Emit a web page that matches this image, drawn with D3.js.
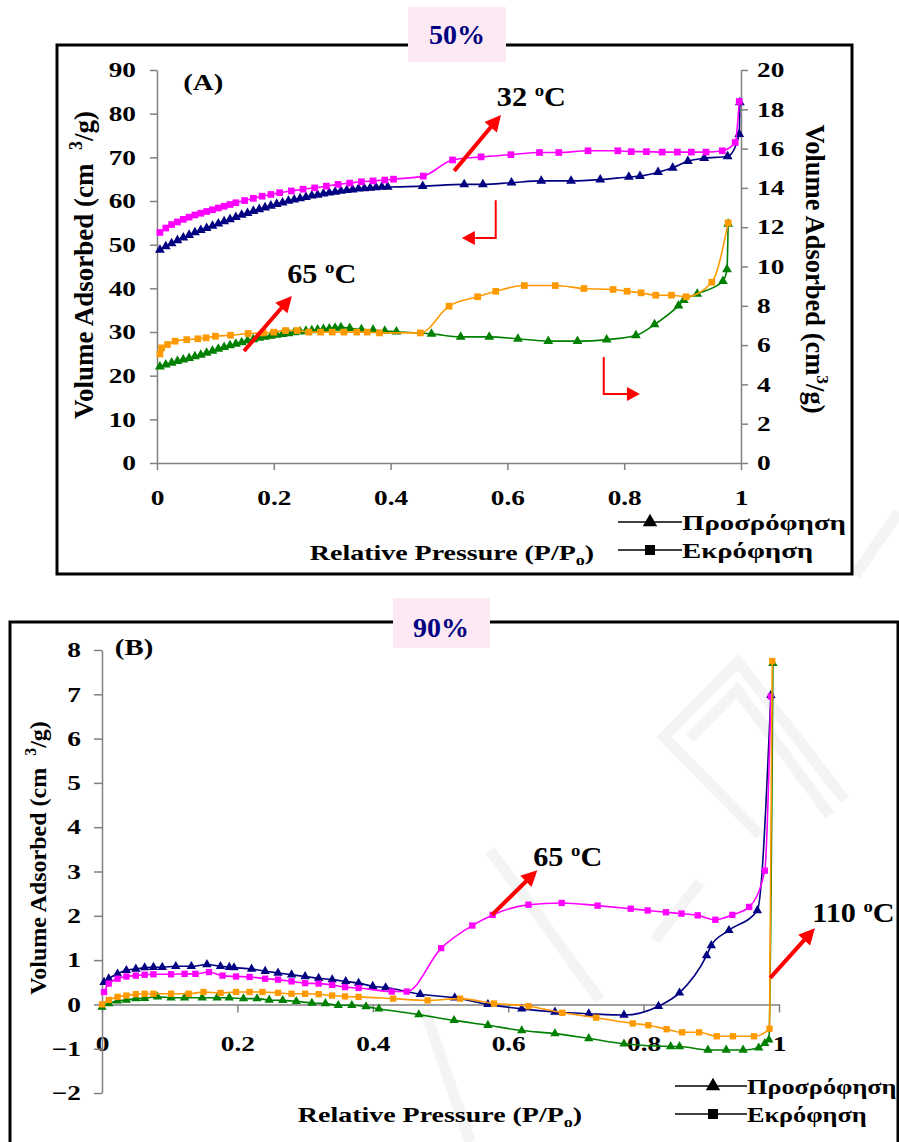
<!DOCTYPE html>
<html><head><meta charset="utf-8">
<script src="https://cdn.jsdelivr.net/npm/d3@7"></script>
<style>
body{margin:0;background:#fff}
svg{display:block}
text{font-family:"Liberation Serif","Times New Roman",serif;font-weight:bold}
</style>
</head><body>
<svg id="c" width="899" height="1142"></svg>
<script>
// ---------- tick values / labels ----------
const xTicks = [0, 0.2, 0.4, 0.6, 0.8, 1];
const xTickLabels = ["0", "0.2", "0.4", "0.6", "0.8", "1"];
const aLeftTicks = [0, 10, 20, 30, 40, 50, 60, 70, 80, 90];
const aRightTicks = [0, 2, 4, 6, 8, 10, 12, 14, 16, 18, 20];
const bTicks = [-2, -1, 0, 1, 2, 3, 4, 5, 6, 7, 8];
const legendLabels = ["Προσρόφηση", "Εκρόφηση"];

// ---------- Panel A, 32 °C (left axis) ----------
const a32AdsP = [0.005,0.015,0.025,0.035,0.045,0.055,0.065,0.075,0.085,0.095,0.105,0.115,0.125,0.135,0.145,0.155,0.165,0.175,0.185,0.195,0.205,0.215,0.225,0.235,0.245,0.255,0.265,0.275,0.285,0.295,0.305,0.315,0.325,0.335,0.345,0.355,0.365,0.375,0.385,0.395,0.455,0.526,0.558,0.607,0.658,0.709,0.759,0.808,0.827,0.858,0.883,0.909,0.937,0.977,0.997,0.998];
const a32AdsV = [48.8,49.6,50.3,51.0,51.6,52.2,52.8,53.3,53.8,54.3,54.8,55.3,55.8,56.3,56.8,57.2,57.7,58.1,58.5,58.9,59.3,59.6,60.0,60.3,60.6,60.9,61.2,61.4,61.7,61.9,62.1,62.3,62.5,62.6,62.8,62.9,63.0,63.1,63.2,63.2,63.4,63.8,63.8,64.2,64.6,64.6,64.9,65.5,65.7,66.6,67.6,69.1,69.8,70.2,75.3,82.6];
const a32DesP = [0.005,0.015,0.025,0.035,0.045,0.055,0.065,0.075,0.085,0.095,0.105,0.115,0.125,0.135,0.15,0.165,0.18,0.195,0.21,0.23,0.25,0.27,0.29,0.31,0.33,0.35,0.37,0.39,0.405,0.456,0.506,0.555,0.606,0.655,0.688,0.738,0.789,0.812,0.838,0.865,0.891,0.915,0.94,0.968,0.99,0.997];
const a32DesV = [52.8,53.8,54.6,55.2,55.8,56.3,56.8,57.2,57.6,58.0,58.4,58.8,59.2,59.6,60.1,60.6,61.1,61.5,61.9,62.3,62.7,63.0,63.4,63.8,64.1,64.4,64.6,64.8,65.0,65.7,69.4,70.1,70.6,71.1,71.1,71.5,71.5,71.3,71.3,71.2,71.2,71.2,71.2,71.5,73.4,82.8];

// ---------- Panel A, 65 °C (right axis) ----------
const a65AdsP = [0.005,0.015,0.025,0.035,0.045,0.055,0.065,0.075,0.085,0.095,0.105,0.115,0.125,0.135,0.145,0.155,0.165,0.175,0.185,0.195,0.205,0.215,0.225,0.235,0.245,0.255,0.265,0.275,0.285,0.295,0.305,0.315,0.33,0.35,0.37,0.39,0.41,0.47,0.52,0.569,0.618,0.67,0.72,0.77,0.82,0.852,0.893,0.902,0.925,0.969,0.976,0.978];
const a65AdsV = [4.9,5.0,5.1,5.18,5.26,5.34,5.42,5.5,5.6,5.7,5.8,5.9,5.98,6.06,6.14,6.22,6.29,6.36,6.42,6.47,6.52,6.56,6.6,6.64,6.68,6.72,6.75,6.78,6.81,6.84,6.87,6.9,6.86,6.8,6.77,6.72,6.68,6.57,6.42,6.42,6.32,6.2,6.2,6.28,6.49,7.05,8.01,8.29,8.61,9.25,9.85,12.17];
const a65DesP = [0.005,0.008,0.018,0.031,0.051,0.07,0.084,0.1,0.126,0.156,0.182,0.2,0.22,0.24,0.26,0.28,0.3,0.32,0.342,0.36,0.381,0.451,0.5,0.549,0.58,0.629,0.682,0.731,0.781,0.805,0.829,0.854,0.881,0.906,0.95,0.978];
const a65DesV = [5.55,5.86,6.03,6.2,6.28,6.32,6.37,6.45,6.5,6.59,6.62,6.66,6.74,6.74,6.66,6.66,6.66,6.66,6.66,6.66,6.62,6.62,7.98,8.46,8.74,9.03,9.03,8.88,8.83,8.74,8.66,8.54,8.54,8.46,9.2,12.22];

// ---------- Panel B, 65 °C ----------
const b65AdsP = [0.003,0.01,0.023,0.036,0.05,0.063,0.076,0.089,0.109,0.132,0.155,0.175,0.188,0.195,0.221,0.241,0.26,0.28,0.3,0.32,0.34,0.36,0.379,0.4,0.419,0.47,0.521,0.57,0.62,0.669,0.719,0.771,0.822,0.853,0.893,0.9,0.926,0.968,0.988];
const b65AdsV = [0.5,0.58,0.69,0.77,0.8,0.83,0.84,0.84,0.86,0.86,0.9,0.86,0.84,0.83,0.8,0.75,0.71,0.67,0.63,0.59,0.56,0.52,0.48,0.41,0.38,0.23,0.15,0.0,-0.1,-0.17,-0.21,-0.24,-0.04,0.26,1.1,1.33,1.67,2.12,6.98];
const b65DesP = [0.003,0.01,0.023,0.036,0.05,0.063,0.076,0.102,0.122,0.138,0.158,0.178,0.198,0.218,0.241,0.26,0.28,0.3,0.32,0.34,0.359,0.379,0.428,0.45,0.501,0.547,0.577,0.63,0.679,0.732,0.781,0.806,0.833,0.856,0.88,0.906,0.931,0.956,0.979,0.988];
const b65DesV = [0.28,0.47,0.58,0.63,0.65,0.67,0.68,0.68,0.69,0.69,0.73,0.65,0.63,0.62,0.58,0.56,0.52,0.48,0.47,0.44,0.39,0.37,0.29,0.29,1.27,1.78,2.02,2.25,2.29,2.23,2.16,2.12,2.08,2.05,2.01,1.91,2.02,2.2,3.02,6.95];

// ---------- Panel B, 110 °C ----------
const b110AdsP = [0.0,0.01,0.023,0.036,0.05,0.063,0.082,0.102,0.122,0.148,0.17,0.188,0.209,0.229,0.247,0.267,0.287,0.31,0.33,0.349,0.369,0.39,0.409,0.468,0.52,0.57,0.62,0.669,0.719,0.771,0.84,0.853,0.895,0.922,0.947,0.97,0.979,0.985,0.991];
const b110AdsV = [-0.06,0.02,0.08,0.1,0.13,0.14,0.17,0.15,0.15,0.15,0.15,0.15,0.13,0.13,0.1,0.09,0.07,0.03,0.02,-0.02,-0.02,-0.05,-0.1,-0.23,-0.36,-0.47,-0.59,-0.66,-0.77,-0.89,-0.95,-0.95,-1.03,-1.03,-1.03,-0.98,-0.88,-0.8,7.7];
const b110DesP = [0.0,0.01,0.023,0.036,0.05,0.063,0.076,0.102,0.128,0.15,0.175,0.198,0.218,0.237,0.26,0.28,0.3,0.32,0.34,0.359,0.379,0.43,0.481,0.529,0.579,0.63,0.68,0.73,0.784,0.807,0.834,0.857,0.882,0.908,0.932,0.963,0.986,0.99];
const b110DesV = [0.0,0.1,0.17,0.2,0.23,0.24,0.24,0.24,0.24,0.28,0.26,0.28,0.28,0.28,0.26,0.24,0.24,0.23,0.2,0.18,0.17,0.13,0.09,0.13,0.02,-0.04,-0.19,-0.3,-0.43,-0.47,-0.56,-0.63,-0.63,-0.72,-0.72,-0.72,-0.55,7.75];

// ---------- colours ----------
const NAVY = "#000080", MAGENTA = "#ff00ff", ORANGE = "#ff9900", GREEN = "#008000", RED = "#ff0000", AXIS = "#808080";
const SERIF = '"Liberation Serif","Times New Roman",serif';

const svg = d3.select("#c");

// faint watermark strokes (background)
const wm = svg.append("g").attr("fill", "none").attr("stroke", "#f4f4f4").attr("stroke-width", 11);
wm.append("polyline").attr("points", "760,835 664,737 738,662 845,800");
wm.append("polyline").attr("points", "690,738 737,690 830,815");
wm.append("polyline").attr("points", "490,850 600,1000");
wm.append("polyline").attr("points", "655,940 700,882");
wm.append("polyline").attr("points", "855,575 899,512");
wm.append("polyline").attr("points", "425,1010 470,1142");

// ---------- helpers ----------
function stretch(sel, k) {
  sel.each(function () {
    const w = this.getComputedTextLength();
    this.setAttribute("textLength", (w * k).toFixed(1));
    this.setAttribute("lengthAdjust", "spacingAndGlyphs");
  });
}
function drawSeries(g, xs, ys, P, V, color, shape, size) {
  const pts = P.map((p, i) => [xs(p), ys(V[i])]);
  g.append("path").attr("d", d3.line().curve(d3.curveMonotoneX)(pts))
    .attr("fill", "none").attr("stroke", color).attr("stroke-width", 1.6);
  const sym = d3.symbol().type(shape === "tri" ? d3.symbolTriangle : d3.symbolSquare).size(size);
  g.selectAll(null).data(pts).join("path")
    .attr("transform", d => `translate(${d[0]},${d[1]})`)
    .attr("d", sym).attr("fill", color);
}
function styleAxis(sel, fs) {
  sel.attr("font-family", SERIF);
  sel.selectAll(".domain").attr("stroke", AXIS).attr("stroke-width", 1.5);
  sel.selectAll(".tick line").attr("stroke", AXIS).attr("stroke-width", 1.5);
  const t = sel.selectAll(".tick text").attr("fill", "#000").attr("font-size", fs)
    .attr("font-family", SERIF).attr("font-weight", "bold");
  stretch(t, 1.3);
}
function arrow(g, x1, y1, x2, y2, w, hl, hw) {
  const dx = x2 - x1, dy = y2 - y1, L = Math.hypot(dx, dy), ux = dx / L, uy = dy / L;
  const bx = x2 - ux * hl, by = y2 - uy * hl;
  g.append("line").attr("x1", x1).attr("y1", y1).attr("x2", bx + ux).attr("y2", by + uy)
    .attr("stroke", RED).attr("stroke-width", w);
  g.append("polygon").attr("points", [[x2, y2], [bx - uy * hw, by + ux * hw], [bx + uy * hw, by - ux * hw]].map(p => p.join(",")).join(" "))
    .attr("fill", RED);
}
function tempLabel(g, x, y, num, fs) {
  const t = g.append("text").attr("x", x).attr("y", y).attr("font-size", fs).attr("fill", "#000");
  t.append("tspan").text(num + " ");
  t.append("tspan").attr("font-size", fs * 0.62).attr("dy", -fs * 0.38).text("o");
  t.append("tspan").attr("dy", fs * 0.38).text("C");
  stretch(t, 1.12);
}
function legend(g, x0, x1, xm, y1, y2, xt, k) {
  [[y1, "tri"], [y2, "sq"]].forEach(([y, s], i) => {
    g.append("line").attr("x1", x0).attr("x2", x1).attr("y1", y).attr("y2", y).attr("stroke", "#000").attr("stroke-width", 1.6);
    g.append("path").attr("transform", `translate(${xm},${y})`)
      .attr("d", d3.symbol().type(s === "tri" ? d3.symbolTriangle : d3.symbolSquare).size(s === "tri" ? 90 : 100)).attr("fill", "#000");
    const t = g.append("text").attr("x", xt).attr("y", y + 8).attr("font-size", 21).text(legendLabels[i]);
    stretch(t, k);
  });
}
function xTitle(g, cx, y) {
  const t = g.append("text").attr("x", cx).attr("y", y).attr("text-anchor", "middle").attr("font-size", 21.5);
  t.append("tspan").text("Relative Pressure (P/P");
  t.append("tspan").attr("font-size", 14).attr("dy", 5).text("o");
  t.append("tspan").attr("dy", -5).text(")");
  stretch(t, 1.3);
}
function yTitle(g, tx, ty, rot, fs, gap) {
  const t = g.append("text").attr("transform", `translate(${tx},${ty}) rotate(${rot})`)
    .attr("text-anchor", "middle").attr("font-size", fs);
  t.append("tspan").text("Volume Adsorbed (cm" + (gap ? "\u00a0\u00a0" : ""));
  t.append("tspan").attr("font-size", fs * 0.66).attr("dy", -fs * 0.42).text("3");
  t.append("tspan").attr("dy", fs * 0.42).text("/g)");
}

// =============== PANEL A ===============
const gA = svg.append("g");
gA.append("rect").attr("x", 57).attr("y", 45).attr("width", 795).attr("height", 529)
  .attr("fill", "none").attr("stroke", "#000").attr("stroke-width", 3);

const xA = d3.scaleLinear().domain([0, 1]).range([157, 741]);
const yAL = d3.scaleLinear().domain([0, 90]).range([463, 70]);
const yAR = d3.scaleLinear().domain([0, 20]).range([463, 70]);

gA.append("g").attr("transform", `translate(0,${yAL(0)})`)
  .call(d3.axisBottom(xA).tickValues(xTicks).tickSize(7).tickSizeOuter(0).tickPadding(20).tickFormat((d, i) => xTickLabels[i]))
  .call(s => styleAxis(s, 21));
gA.append("g").attr("transform", `translate(${xA(0)},0)`)
  .call(d3.axisLeft(yAL).tickValues(aLeftTicks).tickSize(7).tickSizeOuter(0).tickPadding(14).tickFormat(d3.format("d")))
  .call(s => styleAxis(s, 21));
gA.append("g").attr("transform", `translate(${xA(1)},0)`)
  .call(d3.axisRight(yAR).tickValues(aRightTicks).tickSize(7).tickSizeOuter(0).tickPadding(9).tickFormat(d3.format("d")))
  .call(s => styleAxis(s, 21));

drawSeries(gA, xA, yAL, a32AdsP, a32AdsV, NAVY, "tri", 42);
drawSeries(gA, xA, yAL, a32DesP, a32DesV, MAGENTA, "sq", 45);
drawSeries(gA, xA, yAR, a65AdsP, a65AdsV, GREEN, "tri", 42);
drawSeries(gA, xA, yAR, a65DesP, a65DesV, ORANGE, "sq", 45);

// annotations A
stretch(gA.append("text").attr("x", xA(0.045)).attr("y", yAL(85.4)).attr("font-size", 24).text("(A)"), 1.2);
tempLabel(gA, xA(0.582), yAL(81.7), "32", 27);
arrow(gA, xA(0.509), yAL(66.9), xA(0.589), yAL(79.7), 4, 16, 8);
tempLabel(gA, xA(0.223), yAR(9.16), "65", 27);
arrow(gA, xA(0.149), yAR(5.7), xA(0.231), yAR(8.5), 4, 16, 8);
gA.append("polyline").attr("points", `${xA(0.58)},${yAL(60.2)} ${xA(0.58)},${yAL(51.5)} ${xA(0.545)},${yAL(51.5)}`)
  .attr("fill", "none").attr("stroke", RED).attr("stroke-width", 2);
arrow(gA, xA(0.545), yAL(51.5), xA(0.522), yAL(51.5), 2, 13, 7);
gA.append("polyline").attr("points", `${xA(0.765)},${yAR(5.39)} ${xA(0.765)},${yAR(3.51)} ${xA(0.805)},${yAR(3.51)}`)
  .attr("fill", "none").attr("stroke", RED).attr("stroke-width", 2);
arrow(gA, xA(0.8), yAR(3.51), xA(0.827), yAR(3.51), 2, 13, 7);

yTitle(gA, 93, 265, -90, 27, true);
yTitle(gA, 806, 269, 90, 26.5, false);
xTitle(gA, 452, 560);
legend(gA, 618, 682, 650, 522, 550, 682, 1.37);

gA.append("rect").attr("x", 408).attr("y", 7).attr("width", 98).attr("height", 55).attr("fill", "#fde9f4");
gA.append("text").attr("x", 457).attr("y", 44).attr("text-anchor", "middle").attr("font-size", 28).attr("fill", NAVY).text("50%");

// =============== PANEL B ===============
const gB = svg.append("g");
gB.append("rect").attr("x", 10).attr("y", 622).attr("width", 888).attr("height", 540)
  .attr("fill", "none").attr("stroke", "#000").attr("stroke-width", 3);

const xB = d3.scaleLinear().domain([0, 1]).range([102, 779]);
const yB = d3.scaleLinear().domain([-2, 8]).range([1093, 650]);

gB.append("g").attr("transform", `translate(0,${yB(0)})`)
  .call(d3.axisBottom(xB).tickValues(xTicks).tickSize(8).tickSizeOuter(0).tickPadding(24).tickFormat((d, i) => xTickLabels[i]))
  .call(s => styleAxis(s, 21));
gB.append("g").attr("transform", `translate(${xB(0)},0)`)
  .call(d3.axisLeft(yB).tickValues(bTicks).tickSize(8).tickSizeOuter(0).tickPadding(13).tickFormat(d3.format("d")))
  .call(s => styleAxis(s, 21));

drawSeries(gB, xB, yB, b65AdsP, b65AdsV, NAVY, "tri", 38);
drawSeries(gB, xB, yB, b65DesP, b65DesV, MAGENTA, "sq", 40);
drawSeries(gB, xB, yB, b110AdsP, b110AdsV, GREEN, "tri", 38);
drawSeries(gB, xB, yB, b110DesP, b110DesV, ORANGE, "sq", 40);

stretch(gB.append("text").attr("x", xB(0.019)).attr("y", yB(7.88)).attr("font-size", 24).text("(B)"), 1.2);
tempLabel(gB, xB(0.637), yB(3.12), "65", 27);
arrow(gB, xB(0.576), yB(2.02), xB(0.643), yB(3.03), 4, 16, 8);
tempLabel(gB, xB(1.049), yB(1.86), "110", 27);
arrow(gB, xB(0.987), yB(0.6), xB(1.053), yB(1.72), 4, 16, 8);

yTitle(gB, 46, 858, -90, 24, true);
xTitle(gB, 440, 1122);
legend(gB, 675, 747, 713, 1086, 1114, 747, 1.25);

gB.append("rect").attr("x", 393).attr("y", 598).attr("width", 97).attr("height", 50).attr("fill", "#fde9f4");
gB.append("text").attr("x", 441).attr("y", 637).attr("text-anchor", "middle").attr("font-size", 28).attr("fill", NAVY).text("90%");
</script>
</body></html>
